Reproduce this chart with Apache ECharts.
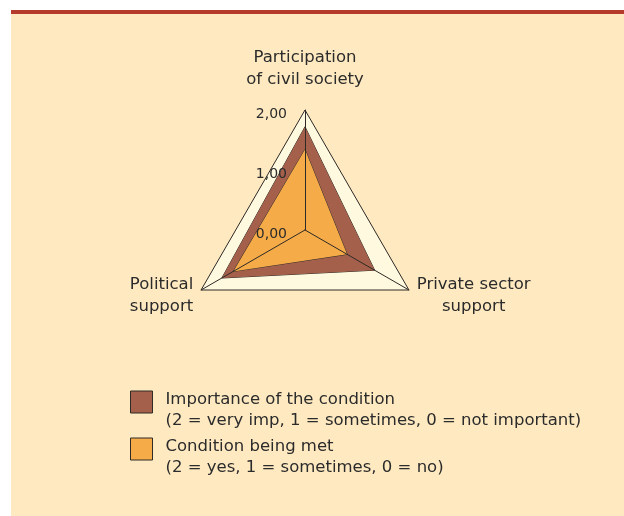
<!DOCTYPE html>
<html><head><meta charset="utf-8">
<script src="https://cdn.jsdelivr.net/npm/echarts@6/dist/echarts.min.js"></script>
<style>html,body{margin:0;padding:0;background:#fff}#c{width:624px;height:516px}</style>
</head><body><div id="c"></div>
<script>
const indicatorNames = ['Participation\nof civil society', 'Political\nsupport', 'Private sector\nsupport'];
const indicatorMin = 0;
const indicatorMax = 2;
const seriesNames = ['Importance of the condition', 'Condition being met'];
const seriesNotes = ['(2 = very imp, 1 = sometimes, 0 = not important)', '(2 = yes, 1 = sometimes, 0 = no)'];
const importanceValues = [1.72, 1.6, 1.34];
const conditionMetValues = [1.34, 1.38, 0.81];
const seriesColors = ['#a4604b', '#f5ab47'];

const FONT = 'DejaVu Sans';
const TEXT = '#2b2b2b';
const LINE = '#2e2a26';

const chart = echarts.init(document.getElementById('c'), null, {renderer: 'canvas'});
const indicator = indicatorNames.map(n => ({name: n, min: indicatorMin, max: indicatorMax}));
const indicatorTop = indicatorNames.map((n, i) => ({name: n, min: indicatorMin, max: indicatorMax,
  axisLabel: i === 0 ? {} : {show: false}}));

const txt = {fontFamily: FONT, fontSize: 16.5, color: TEXT};

function legendCfg(i, top) {
  return {
    data: [seriesNames[i]], left: 125, top: top, orient: 'vertical',
    icon: 'rect', itemWidth: 22, itemHeight: 22, selectedMode: false,
    itemStyle: {borderColor: LINE, borderWidth: 1},
    formatter: name => '{e| }\n{a|' + name + '}\n{a|' + seriesNotes[seriesNames.indexOf(name)] + '}',
    textStyle: {fontFamily: FONT, fontSize: 16.5, color: TEXT, padding: [0, 0, 0, 8],
      rich: {e: {lineHeight: 16, fontSize: 10}, a: Object.assign({lineHeight: 21}, txt)}}
  };
}

chart.setOption({
  animation: false,
  backgroundColor: '#fff',
  graphic: {elements: [
    {type: 'rect', z: -100, silent: true, shape: {x: 11, y: 14, width: 613, height: 502}, style: {fill: '#fee9c0'}},
    {type: 'rect', z: -100, silent: true, shape: {x: 11, y: 10, width: 613, height: 4}, style: {fill: '#b43a2c'}}
  ]},
  legend: [legendCfg(0, 371), legendCfg(1, 418)],
  radar: [
    {
      center: [305, 230], radius: 120, startAngle: 90, shape: 'polygon', splitNumber: 1,
      indicator: indicator,
      axisName: {show: false},
      axisLine: {show: false}, axisTick: {show: false}, axisLabel: {show: false},
      splitLine: {show: true, lineStyle: {color: LINE, width: 1}},
      splitArea: {show: true, areaStyle: {color: ['#fff9df', '#fff9df']}}
    },
    {
      z: 5,
      center: [305, 230], radius: 120, startAngle: 90, shape: 'polygon', splitNumber: 2,
      indicator: indicatorTop,
      axisNameGap: 9,
      axisName: {
        show: true, color: TEXT, fontFamily: FONT, fontSize: 16.5, lineHeight: 22,
        formatter: function (name) {
          const i = indicatorNames.indexOf(name);
          const parts = name.split('\n');
          if (i === 0) return parts.map(s => '{c|' + s + '}').join('\n') + '\n{e| }';
          const k = i === 1 ? 'l' : 'c';
          return '{s| }\n' + parts.map(s => '{' + k + '|' + s + '}').join('\n');
        },
        rich: {
          c: Object.assign({align: 'center', lineHeight: 22}, txt),
          l: Object.assign({align: 'left', lineHeight: 22}, txt),
          e: {lineHeight: 9, fontSize: 7},
          s: {lineHeight: 3, fontSize: 2}
        }
      },
      axisLine: {show: true, lineStyle: {color: LINE, width: 1}},
      axisTick: {show: false},
      axisLabel: {show: true, margin: 18, fontFamily: FONT, fontSize: 14, color: TEXT,
        formatter: v => '{s| }\n{v|' + Number(v).toFixed(2).replace('.', ',') + '}',
        rich: {s: {lineHeight: 9, fontSize: 4}, v: {fontFamily: FONT, fontSize: 14, color: TEXT, lineHeight: 17}}},
      splitLine: {show: false},
      splitArea: {show: false}
    }
  ],
  series: [{
    type: 'radar', radarIndex: 0, symbol: 'none',
    data: [
      {name: seriesNames[0], value: importanceValues,
        itemStyle: {color: seriesColors[0]},
        lineStyle: {color: LINE, width: 1},
        areaStyle: {color: seriesColors[0], opacity: 1}},
      {name: seriesNames[1], value: conditionMetValues,
        itemStyle: {color: seriesColors[1]},
        lineStyle: {color: LINE, width: 1},
        areaStyle: {color: seriesColors[1], opacity: 1}}
    ]
  }]
});
</script></body></html>
